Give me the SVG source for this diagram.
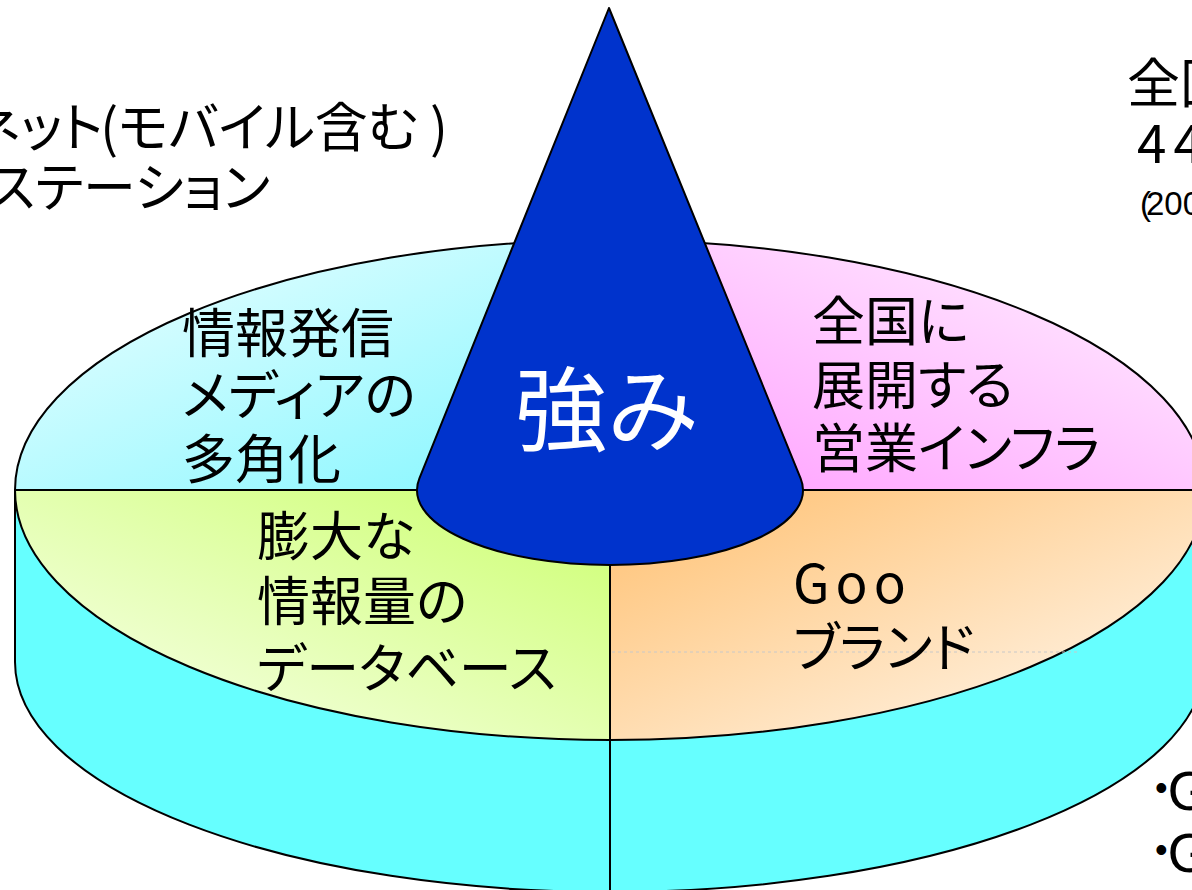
<svg xmlns="http://www.w3.org/2000/svg" width="1192" height="890" viewBox="0 0 1192 890">
<style>
.edge{stroke:#000;stroke-width:2;stroke-linejoin:round}
.jp{font-family:"Noto Sans CJK JP","Noto Sans CJK SC",sans-serif;font-size:53px;fill:#000;font-feature-settings:"palt" 1}
.lat{font-family:"Liberation Sans",Arial,sans-serif;fill:#000}
</style>
<defs>
<linearGradient id="gTL" x1="0" y1="0" x2="1" y2="1"><stop offset="0" stop-color="#f2ffff"/><stop offset="1" stop-color="#7ff6ff"/></linearGradient>
<linearGradient id="gTR" x1="1" y1="0" x2="0" y2="1"><stop offset="0" stop-color="#fff4ff"/><stop offset="1" stop-color="#ff9cff"/></linearGradient>
<linearGradient id="gBL" x1="0" y1="1" x2="1" y2="0"><stop offset="0" stop-color="#fbfff2"/><stop offset="1" stop-color="#ccff6e"/></linearGradient>
<linearGradient id="gBR" x1="0" y1="0" x2="1" y2="1"><stop offset="0" stop-color="#ffc070"/><stop offset="1" stop-color="#fffaf4"/></linearGradient>
</defs>
<rect width="1192" height="890" fill="#fff"/>
<g id="side">
<path class="edge" fill="#66ffff" d="M15,490 L15,662 A595,230 0 0,0 1205,662 L1205,490 Z"/>
<line class="edge" x1="610" y1="740" x2="610" y2="890"/>
</g>
<g id="slice-media">
<path class="edge" fill="url(#gTL)" d="M15,490 A595,250 0 0,1 610,240 L610,490 Z"/>
<text class="jp" x="182" y="353">情報発信</text>
<text class="jp" x="182" y="415">メディアの</text>
<text class="jp" x="182" y="479">多角化</text>
</g>
<g id="slice-infra">
<path class="edge" fill="url(#gTR)" d="M610,240 A595,250 0 0,1 1205,490 L610,490 Z"/>
<text class="jp" x="812" y="341">全国に</text>
<text class="jp" x="812" y="405">展開する</text>
<text class="jp" x="812" y="468">営業インフラ</text>
</g>
<g id="slice-database">
<path class="edge" fill="url(#gBL)" d="M610,740 A595,250 0 0,1 15,490 L610,490 Z"/>
<text class="jp" x="257" y="556">膨大な</text>
<text class="jp" x="257" y="621">情報量の</text>
<text class="jp" x="257" y="688">データベース</text>
</g>
<g id="slice-brand">
<path class="edge" fill="url(#gBR)" d="M1205,490 A595,250 0 0,1 610,740 L610,490 Z"/>
<line x1="612" y1="652" x2="1080" y2="652" stroke="#c8c8c8" stroke-width="1" stroke-dasharray="3 3"/>
<text class="jp" x="793" y="603" letter-spacing="6">Goo</text>
<text class="jp" x="793" y="667">ブランド</text>
</g>
<g id="cone">
<path class="edge" fill="#0033cc" d="M609,8 L419.4,478.3 A193,75 0 1,0 800.6,478.3 Z"/>
<text x="607" y="444" text-anchor="middle" font-family="Noto Sans CJK JP, sans-serif" font-size="92" fill="#fff">強み</text>
</g>
<g id="note-left">
<text class="jp" x="103" y="147" text-anchor="end">ネット</text>
<text class="jp" x="448" y="147" text-anchor="end">(モバイル含む )</text>
<text class="jp" x="270" y="207" text-anchor="end">ステーション</text>
</g>
<g id="note-right">
<text class="jp" x="1127" y="103" font-size="49">全国</text>
<text class="jp" x="1137" y="163" font-size="50" letter-spacing="7">44</text>
<text class="lat" x="1140" y="215" font-size="33">(<tspan dx="-5">200</tspan></text>
</g>
<g id="note-bottom">
<text class="lat" x="1155" y="810" font-size="56"><tspan font-size="36" dy="-10">•</tspan><tspan dy="10">G</tspan></text>
<text class="lat" x="1155" y="872" font-size="56"><tspan font-size="36" dy="-10">•</tspan><tspan dy="10">G</tspan></text>
</g>
</svg>
